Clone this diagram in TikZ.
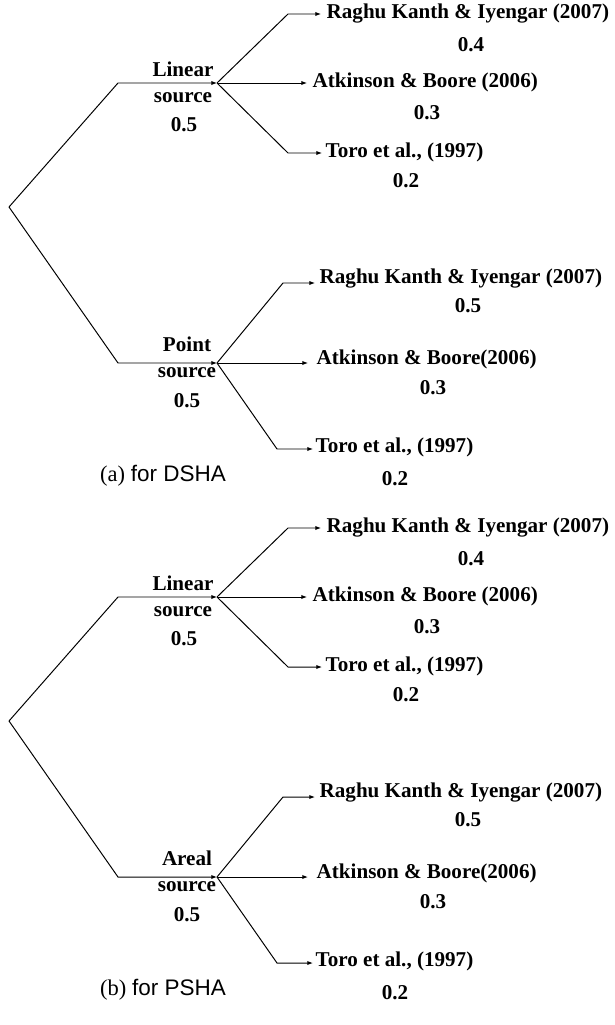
\documentclass[tikz,border=0pt]{standalone}
\usepackage{fontspec}
\setmainfont{Liberation Serif}
\newfontfamily\capfont{Liberation Sans}
\usetikzlibrary{positioning,arrows.meta,calc}

\tikzset{
  lbl/.style={inner sep=1pt, text height=1.45ex, text depth=0pt,
    font=\bfseries\fontsize{15}{18}\selectfont},
  model/.style={lbl, anchor=west},
  branch/.style={line width=0.7pt, -{Latex[length=4pt,width=3pt]}},
  capt/.style={inner sep=1pt, font=\fontsize{16}{19}\selectfont},
}

\begin{document}
\begin{tikzpicture}[x=0.025cm, y=-0.025cm]
\useasboundingbox (0,0) rectangle (615,1025);
\foreach \dy/\p/\kind/\tag in {0/a/Point/DSHA, 514/b/Areal/PSHA}{
\begin{scope}[shift={(0,\dy)}]
% trunk: root, elbows, source junctions
\coordinate (root-\p) at (9,207);
\coordinate (e1-\p) at (118,83);
\coordinate (j1-\p) at (217,83);
\coordinate (e2-\p) at (118,363);
\coordinate (j2-\p) at (217,363);
\draw[branch] (root-\p) -- (e1-\p) -- (j1-\p);
\draw[branch] (root-\p) -- (e2-\p) -- (j2-\p);
% source labels
\node[lbl] (lin-\p)  at (183,72)  {Linear};
\node[lbl] (lins-\p) at (183,98)  {source};
\node[lbl] (linw-\p) at (184,127) {0.5};
\node[lbl] (pnt-\p)  at (187,347) {\kind};
\node[lbl] (pnts-\p) at (187,373) {source};
\node[lbl] (pntw-\p) at (187,403) {0.5};
% GMPEs under linear source
\coordinate (k1-\p) at (288,14);  \coordinate (t1-\p) at (321,14);
\coordinate (t2-\p) at (307,83);
\coordinate (k3-\p) at (288,153); \coordinate (t3-\p) at (322,153);
\draw[branch] (j1-\p) -- (k1-\p) -- (t1-\p);
\draw[branch] (j1-\p) -- (t2-\p);
\draw[branch] (j1-\p) -- (k3-\p) -- (t3-\p);
\node[model] (rk1-\p) at (325,14)  {Raghu Kanth \& Iyengar (2007)};
\node[model] (ab1-\p) at (311,83)  {Atkinson \& Boore (2006)};
\node[model] (to1-\p) at (324,153) {Toro et al., (1997)};
\node[lbl] (rk1w-\p) at (471,47)  {0.4};
\node[lbl] (ab1w-\p) at (427,115) {0.3};
\node[lbl] (to1w-\p) at (406,183) {0.2};
% GMPEs under point / areal source
\coordinate (k4-\p) at (283,283); \coordinate (t4-\p) at (315,283);
\coordinate (t5-\p) at (308,363);
\coordinate (k6-\p) at (277,449); \coordinate (t6-\p) at (313,449);
\draw[branch] (j2-\p) -- (k4-\p) -- (t4-\p);
\draw[branch] (j2-\p) -- (t5-\p);
\draw[branch] (j2-\p) -- (k6-\p) -- (t6-\p);
\node[model] (rk2-\p) at (318,279) {Raghu Kanth \& Iyengar (2007)};
\node[model] (ab2-\p) at (315,360) {Atkinson \& Boore(2006)};
\node[model] (to2-\p) at (314,448) {Toro et al., (1997)};
\node[lbl] (rk2w-\p) at (468,308) {0.5};
\node[lbl] (ab2w-\p) at (433,390) {0.3};
\node[lbl] (to2w-\p) at (395,481) {0.2};
% caption
\node[capt] (capt-\p) at (163,476) {(\p) {\capfont for \tag}};
\end{scope}
}
\end{tikzpicture}
\end{document}
